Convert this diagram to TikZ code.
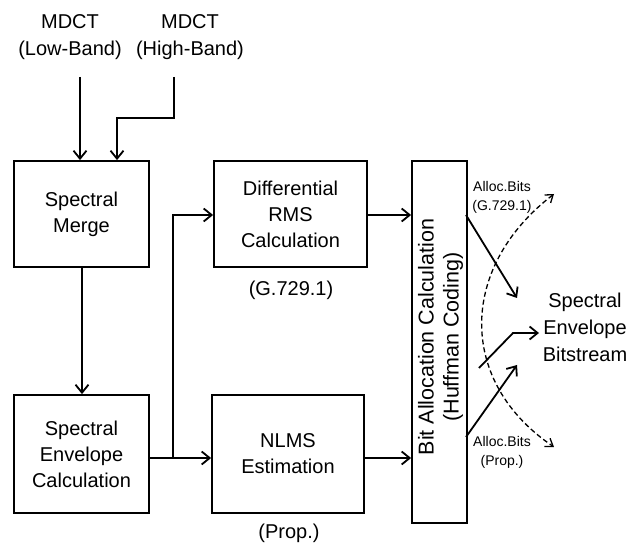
\documentclass[tikz,border=0pt]{standalone}
\usepackage{fontspec}
\setmainfont{Liberation Sans}
\usetikzlibrary{arrows.meta}
\begin{document}
\begin{tikzpicture}[x=1pt,y=-1pt,
  lw/.style={line width=1.8pt},
  blk/.style={draw,lw,rectangle,inner sep=0pt,align=center,font=\fontsize{20}{26}\selectfont},
  arr/.style={lw,-{Straight Barb[length=8pt,width=13pt,line width=1.8pt]}},
  lbl/.style={align=center,inner sep=0pt,font=\fontsize{20}{27}\selectfont},
  sml/.style={align=center,inner sep=0pt,font=\fontsize{14}{19}\selectfont}]
\useasboundingbox (0,0) rectangle (630,545);
% blocks
\node[blk,minimum width=135pt,minimum height=106pt] (merge) at (81.5,214) {Spectral\\Merge};
\node[blk,minimum width=135pt,minimum height=118pt] (env) at (81.5,454) {Spectral\\Envelope\\Calculation};
\node[blk,minimum width=153pt,minimum height=106pt] (diff) at (290.5,214) {Differential\\RMS\\Calculation};
\node[blk,minimum width=152pt,minimum height=118pt] (nlms) at (288,454) {NLMS\\Estimation};
\node[draw,lw,inner sep=0pt,minimum width=55pt,minimum height=362pt] (bit) at (439.5,342) {};
\node[lbl,rotate=90,font=\fontsize{21.5}{25}\selectfont] (bittxt) at (440.5,337) {Bit Allocation Calculation\\(Huffman Coding)};
% labels
\node[lbl] (low) at (70,37) {MDCT\\(Low-Band)};
\node[lbl] (high) at (190,37) {MDCT\\(High-Band)};
\node[lbl] (g729) at (291,290) {(G.729.1)};
\node[lbl] (prop) at (289,533) {(Prop.)};
\node[lbl] (out) at (585,327) {Spectral\\Envelope\\Bitstream};
\node[sml] (ab1) at (502,197) {Alloc.Bits\\(G.729.1)};
\node[sml] (ab2) at (502,452) {Alloc.Bits\\(Prop.)};
% coordinates
\coordinate (lowS) at (80,77);
\coordinate (highS) at (174,77);
\coordinate (highK1) at (174,118);
\coordinate (highK2) at (117,118);
\coordinate (br) at (173,458);
\coordinate (o1s) at (466,215);
\coordinate (o1e) at (517,298);
\coordinate (o2s) at (466,437);
\coordinate (o2e) at (517,365);
\coordinate (o3s) at (479,368);
\coordinate (o3k) at (513,333);
\coordinate (o3e) at (539,333);
\coordinate (dtop) at (554,194);
\coordinate (dbot) at (554,447);
% connectors
\draw[arr] (lowS) -- (lowS |- merge.north);
\draw[arr] (highS) -- (highK1) -- (highK2) -- (highK2 |- merge.north);
\draw[arr] (merge.south -| 82,0) -- (env.north -| 82,0);
\draw[lw] (env.east |- br) -- (br);
\draw[arr] (br) -- (nlms.west |- br);
\draw[arr] (br) -- (173,215) -- (diff.west |- 0,215);
\draw[arr] (diff.east |- 0,215) -- (bit.west |- 0,215);
\draw[arr] (nlms.east |- 0,458) -- (bit.west |- 0,458);
\draw[arr] (o1s) -- (o1e);
\draw[arr] (o2s) -- (o2e);
\draw[arr] (o3s) -- (o3k) -- (o3e);
\draw[line width=1.3pt,dashed,dash pattern=on 5pt off 3pt,{Straight Barb[length=7pt,width=10pt,line width=1.3pt]}-{Straight Barb[length=7pt,width=10pt,line width=1.3pt]}]
  (dtop) .. controls (458,268) and (458,382) .. (dbot);
\end{tikzpicture}
\end{document}
